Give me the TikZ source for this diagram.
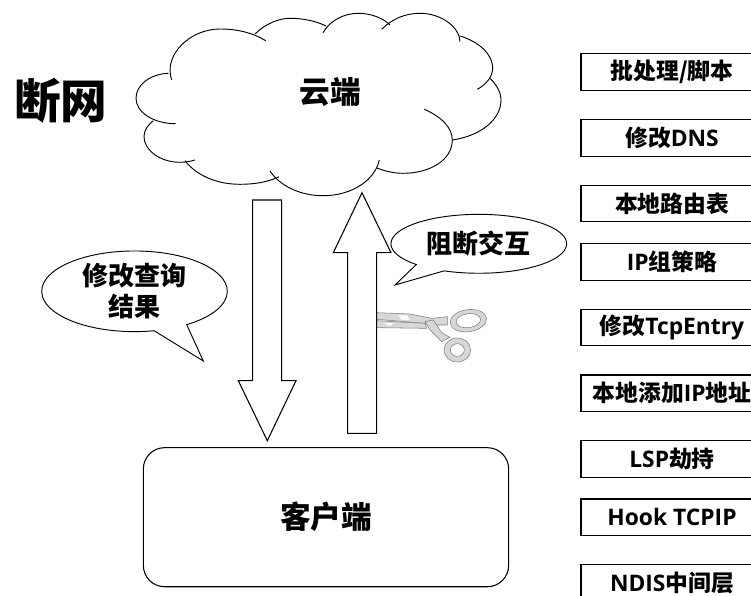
\documentclass[tikz,border=0pt]{standalone}
\usepackage{fontspec}
\setmainfont{Open Sans}
\newfontfamily\cjk{Noto Sans CJK SC}
\newcommand{\zh}[1]{{\cjk #1}}
\definecolor{bladegray}{RGB}{215, 215, 215}
\definecolor{edgegray}{RGB}{125, 125, 125}
\usetikzlibrary{shapes.callouts}
\tikzset{
  cloudline/.style={draw=black, line width=0.7pt},
  bigarrow/.style={draw=black, line width=0.8pt, line join=miter, fill=white},
  talkbubble/.style={ellipse callout, draw=black, line width=0.7pt, fill=white, inner sep=0pt, align=center, font=\bfseries\fontsize{19.5}{23}\selectfont},
  sidebox/.style={draw=black, line width=0.8pt, minimum width=136.5pt, minimum height=27.5pt, inner sep=0pt, font=\bfseries\fontsize{17.1}{20}\selectfont},
  bigtext/.style={font=\bfseries\fontsize{23}{27}\selectfont, inner sep=0pt},
  blade/.style={fill=bladegray, draw=edgegray, line width=0.4pt}
}

\begin{document}
\begin{tikzpicture}[x=0.75pt, y=-0.75pt]
  \useasboundingbox (0, 0) rectangle (751, 596);
  \clip (0, 0) rectangle (751, 596);

  \node[font=\bfseries\fontsize{35}{38}\selectfont, inner sep=0pt] (title) at (61, 101) {\zh{断网}};

  % cloud
  \draw[cloudline] (171.7,80) .. controls (163,55) and (190,29) .. (220,29) .. controls (238,29) and (253,33) .. (265.7,40.7);
  \draw[cloudline] (255,34) .. controls (266,23) and (280,18.3) .. (290,18.3) .. controls (303,18.3) and (316,21) .. (326,26);
  \draw[cloudline] (323,32.7) .. controls (330,20) and (345,13.3) .. (358,13.3) .. controls (371,13.3) and (383,18) .. (390,25);
  \draw[cloudline] (381.7,29.3) .. controls (392,19) and (405,13.3) .. (420,13.3) .. controls (442,13.3) and (460,28) .. (460,41.7);
  \draw[cloudline] (460,36) .. controls (480,42) and (492.7,55) .. (492.7,68) .. controls (492.7,76) and (487,84) .. (477.3,89.3);
  \draw[cloudline] (490,78.3) .. controls (497,85) and (501,93) .. (501,100) .. controls (501,120) and (480,136) .. (452.3,140);
  \draw[cloudline] (424.3,109.3) .. controls (442,117) and (452.3,128) .. (452.3,140) .. controls (452.3,160) and (430,173.3) .. (403,173.3) .. controls (393,173.3) and (385,171) .. (376.7,168);
  \draw[cloudline] (379.3,160) .. controls (375,180) and (352,195.7) .. (323.3,195.7) .. controls (300,195.7) and (280,186) .. (270,171);
  \draw[cloudline] (279,176.7) .. controls (268,182) and (255,184.3) .. (240,184.3) .. controls (216,184.3) and (196,175) .. (185,160.7);
  \draw[cloudline] (195,160) .. controls (190,161.5) and (185,162.3) .. (180,162.3) .. controls (160,162.3) and (144,150) .. (144,136.7) .. controls (144,130) and (148,125) .. (153.3,120.7);
  \draw[cloudline] (175.7,123.7) .. controls (153,123.7) and (136,112) .. (136,98.3) .. controls (136,85) and (150,74) .. (168.3,73.3);
  \node[bigtext] (cloudtext) at (330, 92) {\zh{云端}};

  % scissors
  \begin{scope}[shift={(370, 290)}, x=0.25pt, y=-0.25pt]
    \fill[blade, even odd rule, rotate around={8:(295,92)}] (295,92) ellipse[x radius=55, y radius=33] (295,92) ellipse[x radius=37, y radius=21];
    \fill[blade, even odd rule] (262,180) ellipse[x radius=40, y radius=36] (262,180) ellipse[x radius=21, y radius=19];
    \fill[blade] (20,68) -- (120,72) -- (185,85) -- (232,80) -- (232,105) -- (190,105) -- (165,100) -- (20,88) -- cycle;
    \fill[blade] (20,92) -- (165,100) -- (170,115) -- (20,113) -- cycle;
    \fill[blade] (165,95) -- (190,90) -- (215,128) -- (240,142) -- (215,155) -- (180,120) -- cycle;
    \fill[white] (85,76) -- (112,76) -- (118,90) -- (95,90) -- cycle;
    \fill[white] (40,98) -- (70,100) -- (60,108) -- cycle;
  \end{scope}

  % arrows
  \draw[bigarrow] (252.7,200) -- (281.7,200) -- (281.7,380.7) -- (296,380.7) -- (267.3,440.7) -- (238.3,380.7) -- (252.7,380.7) -- cycle;
  \draw[bigarrow] (347.7,433.3) -- (376.7,433.3) -- (376.7,252.7) -- (391,252.7) -- (362,192.7) -- (333.3,252.7) -- (347.7,252.7) -- cycle;

  \node[talkbubble, minimum width=139.2pt, minimum height=60.5pt, callout absolute pointer={(203.3,361)}, callout pointer arc=22] (modify) at (134.5, 291.3) {\zh{修改查询}\\\zh{结果}};
  \node[talkbubble, minimum width=131.8pt, minimum height=44.2pt, callout absolute pointer={(395,285)}, callout pointer arc=22] (block) at (478.8, 243.8) {\zh{阻断交互}};

  \node[bigtext, draw=black, line width=0.8pt, rounded corners=16pt, minimum width=274pt, minimum height=104.3pt] (client) at (326, 517.2) {\zh{客户端}};

  \foreach \cy/\boxname/\boxtext in {
    72.2/script/{\zh{批处理/脚本}},
    137.8/dns/{\zh{修改}DNS},
    203.5/route/{\zh{本地路由表}},
    261.8/ipgroup/{IP\zh{组策略}},
    327.5/tcpentry/{\zh{修改}TcpEntry},
    393.3/addip/{\zh{本地添加}IP\zh{地址}},
    459/lsp/{LSP\zh{劫持}},
    517.3/hook/{Hook TCPIP},
    582.7/ndis/{NDIS\zh{中间层}}
  } {
    \node[sidebox] (\boxname) at (672, \cy) {\boxtext};
  }
\end{tikzpicture}
\end{document}
